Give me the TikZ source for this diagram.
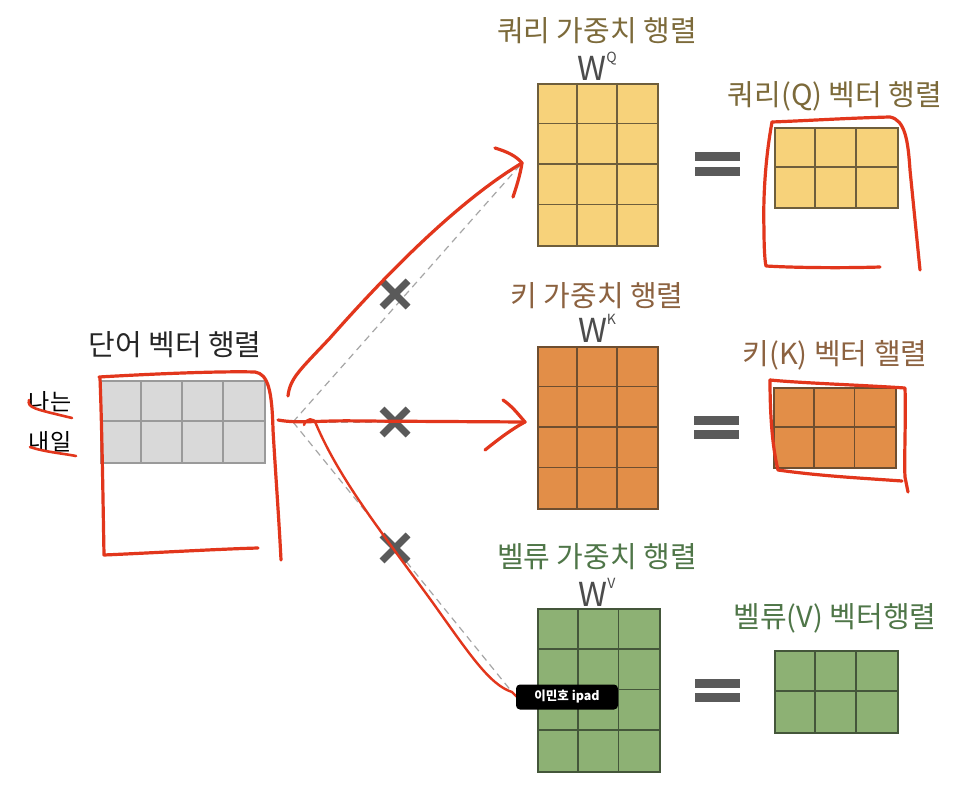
\documentclass[tikz,border=0pt]{standalone}
\usepackage{fontspec}
\setmainfont{Noto Sans CJK KR}
\usetikzlibrary{calc}
\definecolor{qfill}{HTML}{F7D27A}
\definecolor{qline}{HTML}{6E5E3C}
\definecolor{kfill}{HTML}{E28E48}
\definecolor{kline}{HTML}{6E4E30}
\definecolor{vfill}{HTML}{8DB174}
\definecolor{vline}{HTML}{44563A}
\definecolor{wfill}{HTML}{D9D9D9}
\definecolor{wline}{HTML}{9A9A9A}
\definecolor{qtext}{HTML}{7C6A3A}
\definecolor{ktext}{HTML}{8C6240}
\definecolor{vtext}{HTML}{4F7648}
\definecolor{pen}{HTML}{E2361C}
\definecolor{xgray}{HTML}{5A5A5A}
\tikzset{
  mat/.style={draw, line width=1.6pt, inner sep=0pt, anchor=north west},
  title/.style={font=\fontsize{29}{34}\selectfont, inner sep=0pt},
  wlab/.style={font=\fontsize{33}{38}\selectfont, inner sep=0pt, text=black!70},
  redpen/.style={draw=pen, line width=3.2pt, line cap=round, line join=round},
  dashgray/.style={draw=black!35, line width=1.2pt, dash pattern=on 7pt off 5pt},
  xmark/.style={draw=xgray, line width=7pt},
  eqbar/.style={fill=xgray, draw=none},
}
\newcommand\mygrid[7]{% name, cols, rows, cw, ch, line color
  \foreach \i in {1,...,#2} {\pgfmathsetmacro\xx{\i*#4}
    \ifnum\i<#2 \draw[#6, line width=1.6pt] ($(#1.north west)+(\xx pt,0)$) -- ($(#1.south west)+(\xx pt,0)$);\fi}
  \foreach \j in {1,...,#3} {\pgfmathsetmacro\yy{\j*#5}
    \ifnum\j<#3 \draw[#6, line width=1.6pt] ($(#1.north west)+(0,-\yy pt)$) -- ($(#1.north east)+(0,-\yy pt)$);\fi}
}
\newcommand\supsc[1]{\raisebox{0.55em}{\fontsize{14}{15}\selectfont #1}}
\begin{document}
\begin{tikzpicture}[x=1pt,y=-1pt]
\path[use as bounding box, fill=white] (0,0) rectangle (968,786);

% ---------- dashed guide lines ----------
\coordinate (o) at (293,422);
\coordinate (dq) at (522,163);
\coordinate (dk) at (525,422);
\coordinate (dv) at (512,692);
\draw[dashgray] (o) -- (dq);
\draw[dashgray] (o) -- (dk);
\draw[dashgray] (o) -- (dv);

% ---------- word vector matrix ----------
\node[title, text=black!85] (wt) at (175,345) {단어 벡터 행렬};
\node[mat, fill=wfill, draw=wline, minimum width=164pt, minimum height=82pt] (wm) at (100,380) {};
\mygrid{wm}{4}{2}{41}{41}{wline}{}
\node[font=\fontsize{23}{26}\selectfont, inner sep=0pt] (n1) at (50,402) {나는};
\node[font=\fontsize{23}{26}\selectfont, inner sep=0pt] (n2) at (50,442) {내일};

% ---------- weight matrices ----------
\node[title, text=qtext] (qt) at (597,31) {쿼리 가중치 행렬};
\node[wlab] (qw) at (597,66) {W\supsc{Q}};
\node[mat, fill=qfill, draw=qline, minimum width=120pt, minimum height=162pt] (wq) at (537,83) {};
\mygrid{wq}{3}{4}{40}{40.5}{qline}{}

\node[title, text=ktext] (kt) at (597,296) {키 가중치 행렬};
\node[wlab] (kw) at (597,328) {W\supsc{K}};
\node[mat, fill=kfill, draw=kline, minimum width=120pt, minimum height=162pt] (wk) at (537,346) {};
\mygrid{wk}{3}{4}{40}{40.5}{kline}{}

\node[title, text=vtext] (vt) at (597,557) {벨류 가중치 행렬};
\node[wlab] (vw) at (597,592) {W\supsc{V}};
\node[mat, fill=vfill, draw=vline, minimum width=122pt, minimum height=163pt] (wv) at (537,608) {};
\mygrid{wv}{3}{4}{40.7}{40.75}{vline}{}

% ---------- equals signs ----------
\foreach \y in {152,167} \fill[eqbar] (695,\y) rectangle (740,\y+9);
\foreach \y in {416,430} \fill[eqbar] (694,\y) rectangle (739,\y+9);
\foreach \y in {679,693} \fill[eqbar] (695,\y) rectangle (740,\y+9);

% ---------- result matrices ----------
\node[title, text=qtext] (qrt) at (835,96) {쿼리(Q) 벡터 행렬};
\node[mat, fill=qfill, draw=qline, minimum width=123pt, minimum height=80pt] (rq) at (774,127) {};
\mygrid{rq}{3}{2}{41}{40}{qline}{}

\node[title, text=ktext] (krt) at (835,355) {키(K) 벡터 핼렬};
\node[mat, fill=kfill, draw=kline, minimum width=122pt, minimum height=80pt] (rk) at (773,387) {};
\mygrid{rk}{3}{2}{40.7}{40}{kline}{}

\node[title, text=vtext] (vrt) at (835,618) {벨류(V) 벡터행렬};
\node[mat, fill=vfill, draw=vline, minimum width=123pt, minimum height=82pt] (rv) at (774,650) {};
\mygrid{rv}{3}{2}{41}{41}{vline}{}

% ---------- multiplication marks ----------
\foreach \a/\b in {395/294,395/422,395/548} {
  \draw[xmark] (\a-13,\b-13) -- (\a+13,\b+13);
  \draw[xmark] (\a-13,\b+13) -- (\a+13,\b-13);
}

% ---------- red pen annotations ----------
% box around word matrix
\draw[redpen] (99,377) .. controls (150,374) and (220,371) .. (255,372)
  .. controls (268,374) and (272,390) .. (273,430)
  .. controls (276,480) and (279,520) .. (281,560);
\draw[redpen] (100,378) .. controls (102,430) and (103,500) .. (104,555)
  .. controls (150,553) and (220,549) .. (258,548);
% underlines
\draw[redpen, line width=2.6pt] (29,400) .. controls (27,408) and (35,409) .. (72,418);
\draw[redpen, line width=2.6pt] (30,447) .. controls (45,452) and (60,453) .. (76,456);

% upper arrow to query
\coordinate (sq) at (288,396);
\draw[redpen] (sq) .. controls (290,378) and (300,370) .. (330,338)
  .. controls (390,270) and (460,200) .. (dq);
\draw[redpen] (495,148) .. controls (508,152) and (516,156) .. (dq) .. controls (520,176) and (516,188) .. (513,197);
% middle arrow to key
\coordinate (sk) at (278,420);
\draw[redpen] (sk) .. controls (300,424) and (320,420) .. (360,421)
  -- (dk);
\draw[redpen] (503,400) .. controls (512,406) and (518,414) .. (dk) .. controls (510,430) and (495,442) .. (485,450);
% lower curve to value
\draw[redpen, line width=2.4pt] (304,425) .. controls (306,418) and (314,417) .. (316,424)
  .. controls (340,480) and (380,530) .. (433,603)
  .. controls (470,655) and (490,685) .. (dv) -- (517,697);

% box around query result
\draw[redpen] (772,122) .. controls (800,121) and (850,118) .. (890,117)
  .. controls (905,120) and (908,140) .. (910,170)
  .. controls (915,220) and (918,250) .. (920,270);
\draw[redpen] (772,122) .. controls (765,160) and (763,200) .. (764,230)
  .. controls (764,250) and (765,262) .. (766,266)
  .. controls (800,268) and (850,268) .. (880,267);
% box around key result
\draw[redpen] (770,380) .. controls (800,383) and (860,385) .. (905,388)
  .. controls (906,420) and (904,460) .. (905,477) -- (908,492);
\draw[redpen] (770,380) .. controls (770,420) and (773,450) .. (778,470)
  .. controls (820,476) and (860,478) .. (902,481);

% ---------- overlay label ----------
\node[fill=black, rounded corners=4pt, text=white, font=\fontsize{12.5}{14}\selectfont\bfseries, minimum width=102pt, minimum height=25pt, inner sep=0pt] (ipad) at (567,697) {이민호 ipad};
\end{tikzpicture}
\end{document}
